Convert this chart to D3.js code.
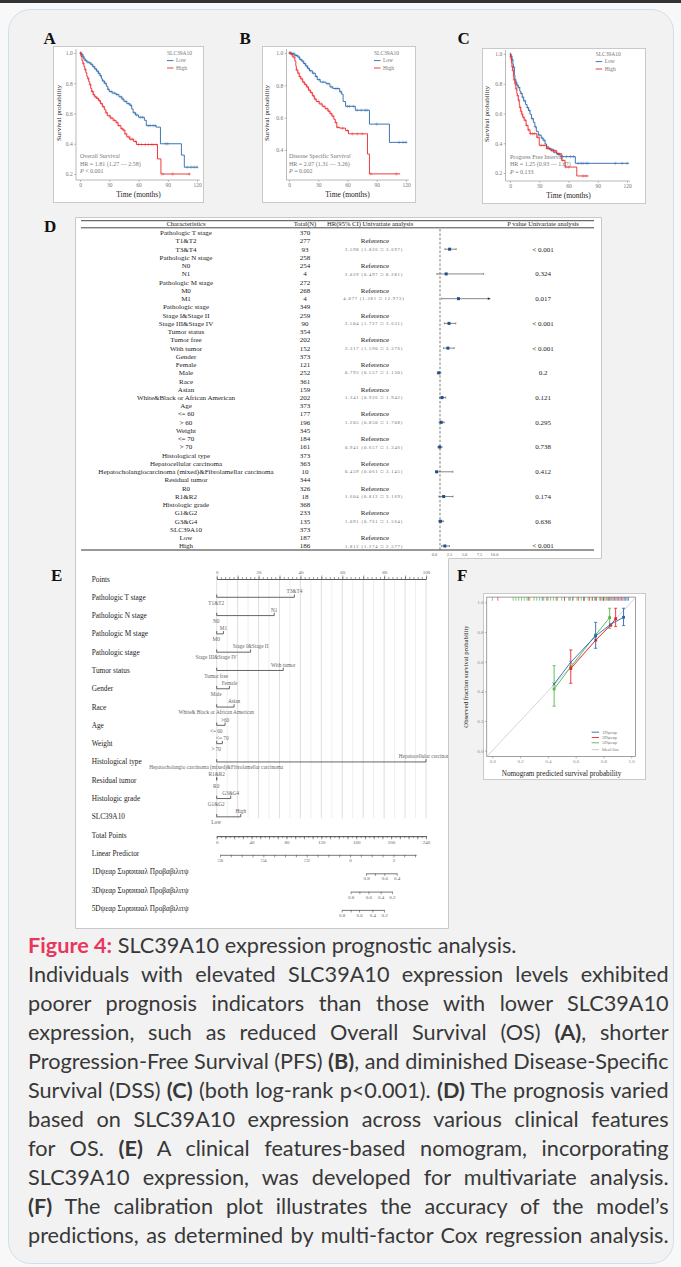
<!DOCTYPE html>
<html><head><meta charset="utf-8">
<script src="https://cdn.jsdelivr.net/npm/d3@7"></script>
<style>html,body{margin:0;padding:0;background:#f7f7f7;}svg{display:block;}</style>
</head><body>
<svg id="fig" width="681" height="1267"></svg>
<script>
// ================= DATA =================
// --- Kaplan-Meier (A: OS, B: DSS, C: PFI) : [time(months), survival] step points ---
const kmTicksX = [0, 30, 60, 90, 120];
const kmTicksY = [0.2, 0.4, 0.6, 0.8, 1.0];
const kmTicksYB = [0.4, 0.6, 0.8, 1.0];
const kmGroups = ["Low", "High"];

const osLow = [[0,1],[1.5,0.99],[3,0.975],[4,0.96],[5.5,0.95],[7,0.94],[9,0.935],[11,0.925],[13,0.91],[15,0.895],[17,0.88],[19,0.865],[20.5,0.85],[22,0.83],[23,0.815],[25,0.8],[27,0.78],[28.5,0.76],[30,0.745],[33,0.735],[37,0.725],[40,0.71],[43,0.695],[45,0.68],[48,0.665],[51,0.655],[53,0.63],[54.5,0.605],[57,0.59],[60,0.575],[66,0.555],[68,0.52],[78,0.51],[82.5,0.40],[104,0.325],[107,0.245]];
const osLowEnd = 121;
const osLowCens = [1,2,3.5,4.5,6,8,10,12,14,16,18,19.5,21,24,26,29,32,35,38,42,44,47,50,52,56,58,62,64,70,72,75,77,88,90,110,114,117,120];
const osHigh = [[0,1],[1,0.98],[2,0.95],[3,0.93],[4,0.91],[5,0.89],[6,0.87],[7,0.845],[8,0.83],[9,0.81],[10,0.79],[11,0.765],[12,0.745],[13.5,0.725],[15,0.71],[17,0.7],[19,0.685],[21,0.665],[23,0.645],[25,0.625],[26.5,0.605],[28,0.585],[31,0.57],[34,0.555],[37,0.54],[39,0.52],[42,0.5],[44,0.49],[46,0.465],[48,0.445],[51,0.43],[55,0.415],[58,0.395],[79.5,0.30],[83,0.20]];
const osHighEnd = 113;
const osHighCens = [0.5,1.5,3.5,5.5,8.5,10.5,12.5,13,14,16,18,20,22,24,27,30,32,35,38,40,43,45,47,50,52,54,57,60,63,67,70,73,75,78,85,95,112];

const dssLow = [[0,1],[3,0.995],[6,0.985],[9,0.975],[11,0.96],[13,0.95],[15,0.935],[17,0.92],[19,0.905],[21,0.89],[24,0.875],[27,0.855],[29,0.835],[32,0.82],[38,0.81],[42,0.79],[45,0.78],[52,0.76],[54,0.745],[55.5,0.70],[58,0.67],[68,0.646],[82.5,0.56],[103,0.447]];
const dssLowEnd = 121;
const dssLowCens = [1,2,4,5,7,8,10,12,14,16,18,20,22,25,28,31,35,40,44,48,50,53,60,62,66,70,74,78,80,90,113,117,120];
const dssHigh = [[0,1],[2,0.99],[4,0.975],[6,0.95],[7,0.92],[7.5,0.895],[9,0.875],[10.5,0.855],[12,0.84],[14,0.82],[16,0.805],[18,0.79],[20,0.77],[22,0.755],[24,0.735],[26,0.715],[28,0.7],[31,0.685],[34,0.67],[37,0.655],[40,0.64],[42,0.625],[44,0.61],[46,0.59],[47.5,0.57],[49,0.54],[52,0.535],[58,0.52],[61,0.5],[80.5,0.375],[82.5,0.252]];
const dssHighEnd = 114;
const dssHighCens = [1,3,5,8,10,11,13,15,17,19,21,23,25,27,30,33,36,39,41,43,45,48,50,55,60,65,70,75,84,110];

const pfiLow = [[0,1],[1,0.985],[2,0.96],[3,0.93],[3.5,0.91],[4.5,0.86],[5,0.83],[6,0.81],[7,0.79],[8.5,0.775],[10,0.75],[11,0.735],[12.5,0.71],[14,0.685],[16,0.66],[17.5,0.64],[19,0.62],[20.5,0.595],[22,0.565],[24,0.54],[25.5,0.51],[27,0.48],[29,0.455],[32,0.435],[34,0.42],[36,0.395],[37.5,0.375],[40,0.36],[44.5,0.34],[48,0.325],[51.5,0.31],[67,0.265]];
const pfiLowEnd = 122;
const pfiLowCens = [0.5,1.5,2.5,4,6,7.5,9,11.5,13,15,18,20,23,26,30,33,35,38,42,46,50,54,58,62,65,70,73,75,78,80,108,115,120];
const pfiHigh = [[0,1],[0.5,0.985],[1,0.97],[1.5,0.94],[2,0.915],[2.7,0.89],[3.5,0.85],[4,0.825],[5,0.8],[6,0.765],[7,0.735],[7.5,0.72],[8.5,0.69],[9.5,0.66],[10,0.64],[11,0.615],[12,0.595],[13,0.575],[14.5,0.555],[16.5,0.52],[18.5,0.49],[20.5,0.464],[27.5,0.44],[30,0.386],[37.5,0.364],[42,0.35],[48,0.33],[53,0.285],[56.5,0.24],[68.5,0.18]];
const pfiHighEnd = 80.6;
const pfiHighCens = [0.5,1.2,2.3,3,4.5,5.5,6.5,8,9,10.5,11.5,12.5,14,15.5,17,19,21,23,25,28,32,35,38,40,43,46,50,54,57,60,75,78];

const kmTitles = ["Overall Survival", "Disease  Specific  Survival", "Progress  Free  Interval"];
const kmHR = ["HR = 1.81  (1.27 \u2014 2.58)", "HR = 2.07  (1.31 \u2014 3.26)", "HR = 1.25  (0.93 \u2014 1.67)"];
const kmP = [" < 0.001", " = 0.002", " = 0.133"];

// --- D: univariate Cox forest table ---
const dChar = ["Pathologic T stage","T1&T2","T3&T4","Pathologic N stage","N0","N1","Pathologic M stage","M0","M1","Pathologic stage","Stage I&Stage II","Stage III&Stage IV","Tumor status","Tumor free","With tumor","Gender","Female","Male","Race","Asian","White&Black or African American","Age","<= 60","> 60","Weight","<= 70","> 70","Histological type","Hepatocellular carcinoma","Hepatocholangiocarcinoma (mixed)&Fibrolamellar carcinoma","Residual tumor","R0","R1&R2","Histologic grade","G1&G2","G3&G4","SLC39A10","Low","High"];
const dTotal = [370,277,93,258,254,4,272,268,4,349,259,90,354,202,152,373,121,252,361,159,202,373,177,196,345,184,161,373,363,10,344,326,18,368,233,135,373,187,186];
const dHRrows = [2,5,8,11,14,17,20,23,26,29,32,35,38];
const dHR = [2.598,2.029,4.077,2.504,2.317,0.793,1.341,1.205,0.941,0.439,1.604,1.091,1.812];
const dLo = [1.826,0.497,1.281,1.727,1.590,0.557,0.926,0.850,0.657,0.061,0.812,0.761,1.274];
const dHi = [3.697,8.281,12.973,3.631,3.376,1.130,1.942,1.708,1.346,3.145,3.169,1.564,2.577];
const dP = ["< 0.001","0.324","0.017","< 0.001","< 0.001","0.2","0.121","0.295","0.738","0.412","0.174","0.636","< 0.001"];
const dAxisTicks = [0, 2.5, 5, 7.5, 10];

// --- E: nomogram ---
const nomoVars = ["Pathologic  T stage","Pathologic  N stage","Pathologic  M stage","Pathologic  stage","Tumor status","Gender","Race","Age","Weight","Histological type","Residual tumor","Histologic  grade","SLC39A10"];
const nomoHi = ["T3&T4","N1","M1","Stage I&Stage II","With tumor","Female","Asian",">60","<= 70","Hepatocellular carcinoma","R1&R2","G3&G4","High"];
const nomoLo = ["T1&T2","N0","M0","Stage III&Stage IV","Tumor free","Male","White& Black or African American","<= 60","> 70","Hepatocholangio carcinoma (mixed)&Fibrolamellar carcinoma","R0","G1&G2","Low"];
const nomoPts = [37.1,27.5,3.2,16.2,31.8,6.1,8.3,4.0,2.7,100,0,6.7,11.5];
const pointsLabels = [0,20,40,60,80,100];
const totalLabels = [0,40,80,120,160,200,240];
const lpLabels = [-6,-4,-2,0,2];
const lpRef = [-6, 2];           // linear predictor values
const lpRefPts = [3.8, 202.6];   // matching total points
const lpMax = 3.05;
const survNames = ["1\u2060D\u03c8\u03b5\u03b1\u03c1 \u03a3\u03c5\u03c1\u03d6\u03b9\u03d6\u03b1\u03bb \u03a0\u03c1\u03bf\u03b2\u03b1\u03b2\u03b9\u03bb\u03b9\u03c4\u03c8",
                   "3\u2060D\u03c8\u03b5\u03b1\u03c1 \u03a3\u03c5\u03c1\u03d6\u03b9\u03d6\u03b1\u03bb \u03a0\u03c1\u03bf\u03b2\u03b1\u03b2\u03b9\u03bb\u03b9\u03c4\u03c8",
                   "5\u2060D\u03c8\u03b5\u03b1\u03c1 \u03a3\u03c5\u03c1\u03d6\u03b9\u03d6\u03b1\u03bb \u03a0\u03c1\u03bf\u03b2\u03b1\u03b2\u03b9\u03bb\u03b9\u03c4\u03c8"];
const surv1Prob = [0.8,0.7,0.6,0.4];             const surv1Pts = [171.2,181.5,192.2,206.4];
const surv3Prob = [0.8,0.7,0.6,0.4,0.2];         const surv3Pts = [153.6,163.6,173.9,188,201];
const surv5Prob = [0.8,0.7,0.6,0.4,0.2];         const surv5Pts = [143.3,153.6,163.2,178.5,191.9];
const survShown = [0.8,0.6,0.4,0.2];

// --- F: calibration ---
const calNames = ["1\u2060D\u03c8\u03b5\u03b1\u03c1","3\u2060D\u03c8\u03b5\u03b1\u03c1","5\u2060D\u03c8\u03b5\u03b1\u03c1","Ideal line"];
const cal1x = [0.445,0.565,0.744,0.852,0.945], cal1y = [0.449,0.596,0.773,0.852,0.899], cal1lo = [null,null,0.69,null,0.843], cal1hi = [null,null,0.865,null,0.96];
const cal3x = [0.565,0.745,0.852,0.888],       cal3y = [0.553,0.745,0.845,0.89],       cal3lo = [0.454,null,null,0.836], cal3hi = [0.679,null,null,0.96];
const cal5x = [0.445,0.565,0.744,0.845],       cal5y = [0.416,0.565,0.78,0.897],       cal5lo = [0.30,null,null,0.825], cal5hi = [0.573,null,null,0.96];
const rug5 = [0.0,0.15,0.17,0.19,0.21,0.23,0.25,0.27,0.3,0.32,0.34,0.37,0.39,0.42,0.44,0.47,0.5,0.52,0.55,0.58,0.61,0.64,0.66,0.69,0.72,0.74,0.77,0.79,0.81,0.83,0.85];
const rug3 = [0.04,0.26,0.4,0.46,0.52,0.58,0.62,0.66,0.7,0.72,0.75,0.78,0.8,0.82,0.84,0.86,0.88,0.9,0.92,0.94];
const rug1 = [0.36,0.56,0.66,0.74,0.8,0.84,0.87,0.89,0.91,0.93,0.95,0.96,0.97,0.98];
const calTicks = [0,0.2,0.4,0.6,0.8,1.0];

// --- caption ---
const capLines = [
 [["Figure 4:","fig"],[" SLC39A10 expression prognostic analysis.",""]],
 [["Individuals with elevated SLC39A10 expression levels exhibited",""]],
 [["poorer prognosis indicators than those with lower SLC39A10",""]],
 [["expression, such as reduced Overall Survival (OS) ",""],["(A)","b"],[", shorter",""]],
 [["Progression-Free Survival (PFS) ",""],["(B)","b"],[", and diminished Disease-Specific",""]],
 [["Survival (DSS) ",""],["(C)","b"],[" (both log-rank p<0.001). ",""],["(D)","b"],[" The prognosis varied",""]],
 [["based on SLC39A10 expression across various clinical features",""]],
 [["for OS. ",""],["(E)","b"],[" A clinical features-based nomogram, incorporating",""]],
 [["SLC39A10 expression, was developed for multivariate analysis.",""]],
 [["(F)","b"],[" The calibration plot illustrates the accuracy of the model\u2019s",""]],
 [["predictions, as determined by multi-factor Cox regression analysis.",""]]
];

// ================= DRAWING =================
const SERIF = "'Liberation Serif','Times New Roman',serif";
const BLUE = "#2a68ad", RED = "#ee2629", GREEN = "#55b548";
const svg = d3.select("#fig");
svg.append("rect").attr("width",681).attr("height",1267).attr("fill","#f8f8f8");
svg.append("rect").attr("width",681).attr("height",3).attr("fill","#333");
svg.append("rect").attr("x",8.5).attr("y",9.5).attr("width",665).attr("height",1254).attr("rx",22)
  .attr("fill","#f2f2f2").attr("stroke","#cfe0ec").attr("stroke-width",1);

function letter(t,x,y){
  svg.append("text").attr("x",x).attr("y",y).text(t).attr("font-family",SERIF)
    .attr("font-weight","bold").attr("font-size",17).attr("fill","#111");
}
function survAt(steps,t){ let s=1; for(const st of steps){ if(st[0]<=t) s=st[1]; else break; } return s; }
function styleAxis(a,fs,col){
  a.select(".domain").remove();
  a.attr("font-family",SERIF).attr("font-size",fs);
  a.selectAll("line").attr("stroke","#8a8a8a").attr("stroke-width",0.6);
  a.selectAll("text").attr("fill",col);
}

// ---------- KM panels ----------
const kmCfg = [
  {box:[53,46,150,156], x0:80, x1:197, yTop:53, yBot:174, axX:76, axY:180, yTicks:kmTicksY, legX:167, legY:55, tx:80, ty:158, ylx:58.5, yly:113, series:[[osLow,osLowEnd,osLowCens,BLUE],[osHigh,osHighEnd,osHighCens,RED]]},
  {box:[262,46,153,156], x0:289, x1:406, yTop:53, yBot:182.3, axX:286.5, axY:180, yTicks:kmTicksYB, legX:374, legY:55, tx:289, ty:158, ylx:266.5, yly:113, series:[[dssLow,dssLowEnd,dssLowCens,BLUE],[dssHigh,dssHighEnd,dssHighCens,RED]]},
  {box:[482,48,163,155], x0:510, x1:627, yTop:54, yBot:173, axX:505.5, axY:181, yTicks:kmTicksY, legX:595.7, legY:56, tx:510, ty:158.5, ylx:487, yly:114, series:[[pfiLow,pfiLowEnd,pfiLowCens,BLUE],[pfiHigh,pfiHighEnd,pfiHighCens,RED]]}
];
kmCfg.forEach((c,k)=>{
  const g = svg.append("g").attr("font-family",SERIF);
  g.append("rect").attr("x",c.box[0]+0.5).attr("y",c.box[1]+0.5).attr("width",c.box[2]).attr("height",c.box[3])
    .attr("fill","#fff").attr("stroke","#c9c9c9");
  const x = d3.scaleLinear().domain([0,120]).range([c.x0,c.x1]);
  const y = d3.scaleLinear().domain([0.2,1]).range([c.yBot,c.yTop]);
  g.append("line").attr("x1",c.axX).attr("x2",c.axX).attr("y1",c.yTop-4).attr("y2",c.axY).attr("stroke","#8a8a8a").attr("stroke-width",0.6);
  g.append("line").attr("x1",c.axX).attr("x2",x(123)).attr("y1",c.axY).attr("y2",c.axY).attr("stroke","#8a8a8a").attr("stroke-width",0.6);
  const ya = g.append("g").attr("transform",`translate(${c.axX},0)`)
    .call(d3.axisLeft(y).tickValues(c.yTicks).tickFormat(d3.format(".1f")).tickSize(1.8).tickPadding(1.5));
  const xa = g.append("g").attr("transform",`translate(0,${c.axY})`)
    .call(d3.axisBottom(x).tickValues(kmTicksX).tickSize(1.8).tickPadding(1));
  styleAxis(ya,5.5,"#777"); styleAxis(xa,5.5,"#777");
  c.series.forEach(s=>{
    const steps=s[0], end=s[1], cens=s[2], col=s[3];
    const pts = steps.concat([[end, steps[steps.length-1][1]]]);
    const cg = g.append("g").attr("stroke",col).attr("stroke-width",0.7).attr("opacity",0.5);
    cens.filter(t=>t<=end).forEach(t=>{
      const cx=x(t), cy=y(survAt(steps,t));
      cg.append("path").attr("d",`M${cx-1.7},${cy}H${cx+1.7}M${cx},${cy-1.7}V${cy+1.7}`);
    });
    g.append("path").attr("d", d3.line().x(d=>x(d[0])).y(d=>y(d[1])).curve(d3.curveStepAfter)(pts))
      .attr("fill","none").attr("stroke",col).attr("stroke-width",0.9);
  });
  // legend
  g.append("text").attr("x",c.legX).attr("y",c.legY).text("SLC39A10").attr("font-size",5.5).attr("fill","#777");
  kmGroups.forEach((n,i)=>{
    const ly = c.legY + 7.2 + i*7.4;
    g.append("line").attr("x1",c.legX).attr("x2",c.legX+6.5).attr("y1",ly-1.6).attr("y2",ly-1.6).attr("stroke",i?RED:BLUE).attr("stroke-width",0.9);
    g.append("text").attr("x",c.legX+9).attr("y",ly).text(n).attr("font-size",5.5).attr("fill","#777");
  });
  g.append("text").attr("x",c.tx).attr("y",c.ty).text(kmTitles[k]).attr("font-size",6).attr("fill","#777");
  g.append("text").attr("x",c.tx).attr("y",c.ty+7.5).text(kmHR[k]).attr("font-size",6).attr("fill","#777");
  const pt = g.append("text").attr("x",c.tx).attr("y",c.ty+15).attr("font-size",6).attr("fill","#777");
  pt.append("tspan").attr("font-style","italic").text("P");
  pt.append("tspan").text(kmP[k]);
  g.append("text").attr("x",(c.x0+c.x1)/2).attr("y",c.axY+17).attr("text-anchor","middle").text("Time (months)").attr("font-size",7.5).attr("fill","#222");
  g.append("text").attr("transform",`translate(${c.ylx},${c.yly}) rotate(-90)`).attr("text-anchor","middle").attr("dy","0.35em")
    .text("Survival probability").attr("font-size",7).attr("fill","#222");
});
letter("A",43.5,44); letter("B",239.5,44); letter("C",457.5,44);

// ---------- D + E shared white box ----------
svg.append("path").attr("d","M75.5,217.5H601.5V558.5H448.5V928.5H75.5Z").attr("fill","#fff").attr("stroke","#c9c9c9");
letter("D",44,232); letter("E",51,581); letter("F",457,581);

// ---------- D: forest table ----------
const dg = svg.append("g").attr("font-family",SERIF).attr("fill","#222");
const rowD = d3.scaleLinear().domain([0,dChar.length-1]).range([232.7,546]);
const hrX = d3.scaleLinear().domain([0,10]).range([434,494]);
dg.append("line").attr("x1",81).attr("x2",594).attr("y1",220.7).attr("y2",220.7).attr("stroke","#333").attr("stroke-width",0.9);
dg.append("line").attr("x1",81).attr("x2",594).attr("y1",227.8).attr("y2",227.8).attr("stroke","#333").attr("stroke-width",0.9);
dg.append("line").attr("x1",81).attr("x2",594).attr("y1",550).attr("y2",550).attr("stroke","#333").attr("stroke-width",1);
dg.append("text").attr("x",186).attr("y",226.4).attr("text-anchor","middle").attr("font-size",6.6).text("Characteristics");
dg.append("text").attr("x",305).attr("y",226.4).attr("text-anchor","middle").attr("font-size",6.6).text("Total(N)");
dg.append("text").attr("x",327).attr("y",226.4).attr("font-size",6.6).text("HR(95% CI) Univariate analysis");
dg.append("text").attr("x",543).attr("y",226.4).attr("text-anchor","middle").attr("font-size",6.6).text("P value Univariate analysis");
dg.append("line").attr("x1",hrX(1)).attr("x2",hrX(1)).attr("y1",229).attr("y2",550).attr("stroke","#444").attr("stroke-width",0.7).attr("stroke-dasharray","2.5,1.8");
dChar.forEach((c,i)=>{
  dg.append("text").attr("x",186).attr("y",rowD(i)+2.4).attr("text-anchor","middle").attr("font-size",7).text(c);
  dg.append("text").attr("x",305).attr("y",rowD(i)+2.4).attr("text-anchor","middle").attr("font-size",7).text(dTotal[i]);
});
const hrMax = 9.4;
dHRrows.forEach((r,j)=>{
  const yR = rowD(r);
  dg.append("text").attr("x",375).attr("y",rowD(r-1)+2.4).attr("text-anchor","middle").attr("font-size",7).text("Reference");
  dg.append("text").attr("x",374).attr("y",yR+1.6).attr("text-anchor","middle").attr("font-size",4.6).attr("letter-spacing",0.85).attr("fill","#666")
    .text(`${dHR[j].toFixed(3)} (${dLo[j].toFixed(3)} \u25a1 ${dHi[j].toFixed(3)})`);
  dg.append("text").attr("x",543).attr("y",yR+2.4).attr("text-anchor","middle").attr("font-size",7).text(dP[j]);
  const lo = Math.max(dLo[j],0.25), hi = Math.min(dHi[j],hrMax);
  dg.append("line").attr("x1",hrX(lo)).attr("x2",hrX(hi)).attr("y1",yR).attr("y2",yR).attr("stroke","#555").attr("stroke-width",0.7);
  dg.append("line").attr("x1",hrX(lo)).attr("x2",hrX(lo)).attr("y1",yR-1).attr("y2",yR+1).attr("stroke","#555").attr("stroke-width",0.6);
  if(dHi[j] > hrMax){
    dg.append("path").attr("d",`M${hrX(hi)},${yR}l-2.6,-1.3v2.6z`).attr("fill","#333");
  } else {
    dg.append("line").attr("x1",hrX(hi)).attr("x2",hrX(hi)).attr("y1",yR-1).attr("y2",yR+1).attr("stroke","#555").attr("stroke-width",0.6);
  }
  dg.append("rect").attr("x",hrX(dHR[j])-1.5).attr("y",yR-1.5).attr("width",3).attr("height",3).attr("fill","#1f4f8f");
});
const dax = dg.append("g").attr("transform","translate(0,551.5)").call(d3.axisBottom(hrX).tickValues(dAxisTicks).tickFormat(d3.format(".1f")).tickSize(0).tickPadding(1.5));
styleAxis(dax,4.5,"#666");

// ---------- E: nomogram ----------
svg.append("defs").append("clipPath").attr("id","clipE").append("rect").attr("x",76).attr("y",559).attr("width",372).attr("height",369);
const eg = svg.append("g").attr("font-family",SERIF).attr("clip-path","url(#clipE)");
const nomoRows = ["Points"].concat(nomoVars, ["Total Points","Linear Predictor"], survNames);
const rowE = d3.scaleLinear().domain([0,nomoRows.length-1]).range([579,908.3]);
const ptsX = d3.scaleLinear().domain([0,100]).range([216.7,426]);
const totX = d3.scaleLinear().domain([0,240]).range([216.7,426]);
d3.range(0,101,5).forEach(p=>{
  eg.append("line").attr("x1",ptsX(p)).attr("x2",ptsX(p)).attr("y1",579).attr("y2",rowE(nomoVars.length)+1.5)
    .attr("stroke",p%10===0?"#d6d6d6":"#ebebeb").attr("stroke-width",0.8);
});
nomoRows.forEach((n,i)=>{
  eg.append("text").attr("x",91.7).attr("y",rowE(i)+2.5).attr("font-size",7.3).attr("fill","#222").text(n);
});
function tinyAxis(a){ a.select(".domain").attr("stroke","#555").attr("stroke-width",0.8);
  a.attr("font-family",SERIF).attr("font-size",5); a.selectAll("line").attr("stroke","#555").attr("stroke-width",0.6); a.selectAll("text").attr("fill","#666"); }
// Points axis
const pMinor = eg.append("g").attr("transform",`translate(0,${rowE(0)})`).call(d3.axisTop(ptsX).tickValues(d3.range(0,101,2)).tickFormat("").tickSize(2).tickSizeOuter(0));
tinyAxis(pMinor);
const pMaj = eg.append("g").attr("transform",`translate(0,${rowE(0)})`).call(d3.axisTop(ptsX).tickValues(d3.range(0,101,10)).tickFormat(d=>pointsLabels.includes(d)?d:"").tickSize(3.5).tickSizeOuter(0).tickPadding(1.5));
tinyAxis(pMaj);
// variable rows
nomoVars.forEach((v,i)=>{
  const yv = rowE(i+1), x0 = ptsX(0), x1 = ptsX(nomoPts[i]);
  eg.append("path").attr("d",`M${x0},${yv-2.8}V${yv}H${x1}V${yv-2.8}`).attr("fill","none").attr("stroke","#555").attr("stroke-width",0.9);
  eg.append("text").attr("x",x1).attr("y",yv-3.8).attr("text-anchor","middle").attr("font-size",5.3).attr("fill","#666").text(nomoHi[i]);
  eg.append("text").attr("x",x0-0.5).attr("y",yv+7.3).attr("text-anchor","middle").attr("font-size",5.3).attr("fill","#666").text(nomoLo[i]);
});
// Total points
const iTot = nomoVars.length+1;
const tMinor = eg.append("g").attr("transform",`translate(0,${rowE(iTot)+1})`).call(d3.axisBottom(totX).tickValues(d3.range(0,241,5)).tickFormat("").tickSize(2).tickSizeOuter(0));
tinyAxis(tMinor);
const tMaj = eg.append("g").attr("transform",`translate(0,${rowE(iTot)+1})`).call(d3.axisBottom(totX).tickValues(d3.range(0,241,10)).tickFormat(d=>totalLabels.includes(d)?d:"").tickSize(3.2).tickSizeOuter(0).tickPadding(1));
tinyAxis(tMaj);
// Linear predictor
const lpBase = d3.scaleLinear().domain(lpRef).range(lpRefPts.map(totX));
const lpX = d3.scaleLinear().domain([lpRef[0],lpMax]).range([lpBase(lpRef[0]), lpBase(lpMax)]);
const lpa = eg.append("g").attr("transform",`translate(0,${rowE(iTot+1)+1.4})`)
  .call(d3.axisBottom(lpX).tickValues(d3.range(-6,lpMax,0.5)).tickFormat(d=>lpLabels.includes(d)?(d<0?"\u25a1"+Math.abs(d):d):"").tickSize(2.6).tickSizeOuter(0).tickPadding(1));
tinyAxis(lpa);
// survival probability axes
[[surv1Prob,surv1Pts],[surv3Prob,surv3Pts],[surv5Prob,surv5Pts]].forEach((s,k)=>{
  const sc = d3.scaleLinear().domain(s[0]).range(s[1].map(totX));
  const a = eg.append("g").attr("transform",`translate(0,${rowE(iTot+2+k)+1.6})`)
    .call(d3.axisBottom(sc).tickValues(s[0]).tickFormat(d=>survShown.includes(d)?d3.format(".1f")(d):"").tickSize(2.6).tickSizeOuter(0).tickPadding(1));
  tinyAxis(a);
});

// ---------- F: calibration ----------
svg.append("rect").attr("x",483.5).attr("y",593.5).attr("width",162).attr("height",186).attr("fill","#fff").attr("stroke","#c9c9c9");
const fg = svg.append("g").attr("font-family",SERIF);
const fx = d3.scaleLinear().domain([0,1]).range([492.3,631.2]);
const fy = d3.scaleLinear().domain([0,1]).range([750.7,602.3]);
fg.append("rect").attr("x",fx(-0.04)).attr("y",fy(1.035)).attr("width",fx(1.03)-fx(-0.04)).attr("height",fy(-0.04)-fy(1.035))
  .attr("fill","none").attr("stroke","#777").attr("stroke-width",0.7);
const fya = fg.append("g").attr("transform",`translate(${fx(-0.04)},0)`).call(d3.axisLeft(fy).tickValues(calTicks).tickFormat(d3.format(".1f")).tickSize(1.8).tickPadding(1.5));
const fxa = fg.append("g").attr("transform",`translate(0,${fy(-0.04)})`).call(d3.axisBottom(fx).tickValues(calTicks).tickFormat(d3.format(".1f")).tickSize(1.8).tickPadding(1.2));
styleAxis(fya,5,"#888"); styleAxis(fxa,5,"#888");
fg.append("line").attr("x1",fx(-0.04)).attr("y1",fy(-0.04)).attr("x2",fx(1.03)).attr("y2",fy(1.03)).attr("stroke","#c4c4c4").attr("stroke-width",0.7);
[[rug5,GREEN],[rug3,RED],[rug1,BLUE]].forEach(r=>{
  r[0].forEach(v=>fg.append("line").attr("x1",fx(v)).attr("x2",fx(v)).attr("y1",fy(1.035)).attr("y2",fy(1.035)+3.6).attr("stroke",r[1]).attr("stroke-width",0.7));
});
[[cal5x,cal5y,cal5lo,cal5hi,GREEN],[cal3x,cal3y,cal3lo,cal3hi,RED],[cal1x,cal1y,cal1lo,cal1hi,BLUE]].forEach(s=>{
  const [xs,ys,los,his,col] = s;
  const pts = xs.map((v,i)=>[v,ys[i]]);
  fg.append("path").attr("d",d3.line().x(d=>fx(d[0])).y(d=>fy(d[1]))(pts)).attr("fill","none").attr("stroke",col).attr("stroke-width",0.9);
  xs.forEach((v,i)=>{
    if(los[i]!=null){
      fg.append("line").attr("x1",fx(v)).attr("x2",fx(v)).attr("y1",fy(los[i])).attr("y2",fy(his[i])).attr("stroke",col).attr("stroke-width",0.9);
      [los[i],his[i]].forEach(e=>fg.append("line").attr("x1",fx(v)-1.6).attr("x2",fx(v)+1.6).attr("y1",fy(e)).attr("y2",fy(e)).attr("stroke",col).attr("stroke-width",0.8));
      fg.append("rect").attr("x",fx(v)-1.4).attr("y",fy(ys[i])-1.4).attr("width",2.8).attr("height",2.8).attr("fill",col);
    } else if(col===BLUE){
      const cx=fx(v), cy=fy(ys[i]);
      fg.append("path").attr("d",`M${cx-1.5},${cy-1.5}L${cx+1.5},${cy+1.5}M${cx-1.5},${cy+1.5}L${cx+1.5},${cy-1.5}`).attr("stroke",col).attr("stroke-width",0.8);
    } else {
      fg.append("rect").attr("x",fx(v)-1.4).attr("y",fy(ys[i])-1.4).attr("width",2.8).attr("height",2.8).attr("fill",col);
    }
  });
});
const legY = [733.5, 738.8, 744.1, 751];
calNames.forEach((n,i)=>{
  const col = [BLUE,RED,GREEN,"#c4c4c4"][i];
  fg.append("line").attr("x1",591.7).attr("x2",599).attr("y1",legY[i]-1.3).attr("y2",legY[i]-1.3).attr("stroke",col).attr("stroke-width",0.9);
  fg.append("text").attr("x",602).attr("y",legY[i]).attr("font-size",4.6).attr("fill","#777").text(n);
});
fg.append("text").attr("x",561.5).attr("y",775.5).attr("text-anchor","middle").attr("font-size",7.2).attr("fill","#222").text("Nomogram predicted survival probability");
fg.append("text").attr("transform","translate(465.5,676.5) rotate(-90)").attr("text-anchor","middle").attr("dy","0.35em").attr("font-size",6.7).attr("fill","#222").text("Observed fraction survival probability");

// ---------- caption ----------
const capG = svg.append("g").attr("font-family","Lato, 'Open Sans', sans-serif").attr("font-size",20.5).attr("fill","#383838");
const capX = 28, capW = 641;
const capNodes = capLines.map((segs,i)=>{
  const g = capG.append("g").attr("transform",`translate(${capX},${953+29*i})`);
  const t = g.append("text").attr("x",0).attr("y",0);
  segs.forEach(sg=>{
    const ts = t.append("tspan").text(sg[0]);
    if(sg[1]==="b") ts.attr("font-weight","bold");
    if(sg[1]==="fig") ts.attr("font-weight","bold").attr("fill","#e8365d");
  });
  return {g, t, w: t.node().getComputedTextLength(), n: segs.map(s=>s[0]).join("").split(" ").length-1};
});
// horizontal scale so that the longest justified line fits the text block naturally
const sc = d3.min(capNodes.slice(1), d=>capW/d.w);
capNodes.forEach((d,i)=>{
  d.g.attr("transform",`translate(${capX},${953+29*i}) scale(${sc},1)`);
  if(i>0){ d.t.attr("word-spacing", ((capW/sc - d.w)/d.n).toFixed(3)); }
});
</script>
</body></html>
